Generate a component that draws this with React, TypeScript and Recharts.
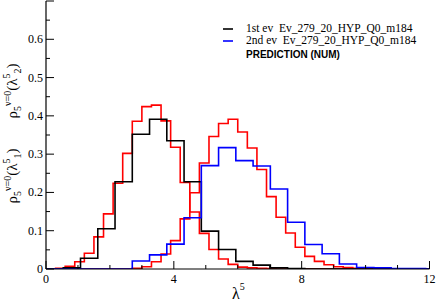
import { LineChart, Line, XAxis, YAxis } from 'recharts';

// bin widths of the histograms
const evBin = 0.54;
const predBin = 0.3;

// 1st eigenvalue distribution (black), bins of evBin starting at 0
const firstEv = [0, 0.003, 0.028, 0.105, 0.228, 0.352, 0.391, 0.335, 0.228, 0.099, 0.051, 0.02, 0.01, 0.003, 0.001];
// 2nd eigenvalue distribution (blue)
const secondEv = [0, 0, 0, 0, 0, 0.021, 0.037, 0.065, 0.134, 0.27, 0.317, 0.283, 0.269, 0.209, 0.122, 0.064, 0.04, 0.013, 0.004, 0.003, 0.001, 0.001];
// predictions (red), bins of predBin starting at 0
const predFirst = [0, 0.002, 0.007, 0.019, 0.041, 0.084, 0.144, 0.224, 0.302, 0.386, 0.424, 0.428, 0.387, 0.318, 0.226, 0.149, 0.093, 0.051, 0.026, 0.012, 0.005, 0.003, 0.002, 0.001];
const predSecond = [0, 0, 0, 0, 0, 0, 0, 0, 0, 0.002, 0.006, 0.019, 0.039, 0.074, 0.131, 0.199, 0.277, 0.346, 0.38, 0.391, 0.358, 0.316, 0.26, 0.189, 0.135, 0.094, 0.057, 0.033, 0.02, 0.011, 0.006, 0.004, 0.002, 0.001, 0.001];

const xTicks = [0, 1, 2, 3, 4, 5, 6, 7, 8, 9, 10, 11, 12];
const yTicks = [0, 0.05, 0.1, 0.15, 0.2, 0.25, 0.3, 0.35, 0.4, 0.45, 0.5, 0.55, 0.6, 0.65, 0.7];

const legendLabels = ['1st ev\u00a0\u00a0Ev_279_20_HYP_Q0_m184', '2nd ev\u00a0\u00a0Ev_279_20_HYP_Q0_m184', 'PREDICTION (NUM)'];

const toSteps = (heights: number[], w: number) => {
  const pts = heights.map((h, k) => ({ x: +(k * w).toFixed(3), y: h }));
  pts.push({ x: +(heights.length * w).toFixed(3), y: 0 });
  pts.push({ x: 12, y: 0 });
  return pts;
};

const serif = 'Liberation Serif, Times New Roman, serif';

const isMajorX = (v: number) => v % 4 === 0;
const isMajorY = (v: number) => Math.abs(v * 10 - Math.round(v * 10)) < 1e-6;

const BottomTick = (props: any) => {
  const { x, y, payload } = props;
  const v = payload.value;
  return (
    <g>
      <line x1={x} y1={y} x2={x} y2={y - (isMajorX(v) ? 8 : 4)} stroke="#000" />
      {isMajorX(v) && (
        <text x={x} y={y + 14} textAnchor="middle" fontFamily={serif} fontSize={12} fill="#000">
          {v}
        </text>
      )}
    </g>
  );
};

const TopTick = (props: any) => {
  const { x, y, payload } = props;
  const v = payload.value;
  return <line x1={x} y1={y} x2={x} y2={y + (isMajorX(v) ? 8 : 4)} stroke="#000" />;
};

const LeftTick = (props: any) => {
  const { x, y, payload } = props;
  const v = payload.value;
  const major = isMajorY(v);
  return (
    <g>
      <line x1={x} y1={y} x2={x + (major ? 8 : 4)} y2={y} stroke="#000" />
      {major && v < 0.65 && (
        <text x={x - 3} y={y + 4} textAnchor="end" fontFamily={serif} fontSize={12} fill="#000">
          {Math.round(v * 10) / 10}
        </text>
      )}
    </g>
  );
};

const RightTick = (props: any) => {
  const { x, y, payload } = props;
  const v = payload.value;
  return <line x1={x} y1={y} x2={x - (isMajorY(v) ? 8 : 4)} y2={y} stroke="#000" />;
};

const YTitle = ({ cy, sub }: { cy: number; sub: string }) => (
  <text transform={`translate(17, ${cy}) rotate(-90)`} textAnchor="middle" fontFamily={serif} fontSize={15} fill="#000">
    <tspan>ρ</tspan>
    <tspan fontSize={10} dy={4}>5</tspan>
    <tspan fontSize={10} dy={-10}>ν=0</tspan>
    <tspan dy={6}>(λ</tspan>
    <tspan fontSize={10} dy={-7}>5</tspan>
    <tspan fontSize={10} dy={11}>{sub}</tspan>
    <tspan dy={-4}>)</tspan>
  </text>
);

const App = () => {
  const common = { type: 'stepAfter' as const, dataKey: 'y', dot: false, strokeWidth: 1.6, isAnimationActive: false };
  return (
    <div style={{ position: 'absolute', left: 0, top: 0, width: 436, height: 303, background: '#fff' }}>
      <LineChart width={436} height={303} margin={{ top: 1, right: 6.5, bottom: 0, left: 0 }}>
        <XAxis
          xAxisId={0}
          type="number"
          dataKey="x"
          domain={[0, 12]}
          ticks={xTicks}
          interval={0}
          height={34}
          tickSize={0}
          tickMargin={0}
          tickLine={false}
          tick={<BottomTick />}
          axisLine={{ stroke: '#000', strokeWidth: 1.2 }}
          allowDataOverflow
        />
        <XAxis
          xAxisId="top"
          orientation="top"
          type="number"
          dataKey="x"
          domain={[0, 12]}
          ticks={xTicks}
          interval={0}
          height={0}
          tickSize={0}
          tickMargin={0}
          tickLine={false}
          tick={<TopTick />}
          axisLine={{ stroke: '#000', strokeWidth: 1.2 }}
          allowDataOverflow
        />
        <YAxis
          yAxisId={0}
          type="number"
          domain={[0, 0.7]}
          ticks={yTicks}
          interval={0}
          width={46}
          tickSize={0}
          tickMargin={0}
          tickLine={false}
          tick={<LeftTick />}
          axisLine={{ stroke: '#000', strokeWidth: 1.2 }}
          allowDataOverflow
        />
        <YAxis
          yAxisId="right"
          orientation="right"
          type="number"
          domain={[0, 0.7]}
          ticks={yTicks}
          interval={0}
          width={0}
          tickSize={0}
          tickMargin={0}
          tickLine={false}
          tick={<RightTick />}
          axisLine={{ stroke: '#000', strokeWidth: 1.2 }}
          allowDataOverflow
        />
        <Line {...common} data={toSteps(predFirst, predBin)} stroke="#ff0000" />
        <Line {...common} data={toSteps(predSecond, predBin)} stroke="#ff0000" />
        <Line {...common} data={toSteps(firstEv, evBin)} stroke="#000000" />
        <Line {...common} data={toSteps(secondEv, evBin)} stroke="#0000ff" />
      </LineChart>
      <svg width={436} height={303} style={{ position: 'absolute', left: 0, top: 0, pointerEvents: 'none' }}>
        <line x1={223} y1={29} x2={233} y2={29} stroke="#000" strokeWidth={1.6} />
        <text x={246} y={32} fontFamily={serif} fontSize={11.5} fill="#000">{legendLabels[0]}</text>
        <line x1={223} y1={41} x2={233} y2={41} stroke="#0000ff" strokeWidth={1.6} />
        <text x={246} y={44} fontFamily={serif} fontSize={11.5} fill="#000">{legendLabels[1]}</text>
        <text x={246} y={58} fontFamily="Liberation Sans, Arial, sans-serif" fontWeight="bold" fontSize={10} fill="#000">
          {legendLabels[2]}
        </text>
        <text x={232} y={299} fontFamily={serif} fontSize={16} fill="#000">
          λ<tspan fontSize={10} dy={-9}>5</tspan>
        </text>
        <YTitle cy={91} sub="2" />
        <YTitle cy={176} sub="1" />
      </svg>
    </div>
  );
};

export default App;
